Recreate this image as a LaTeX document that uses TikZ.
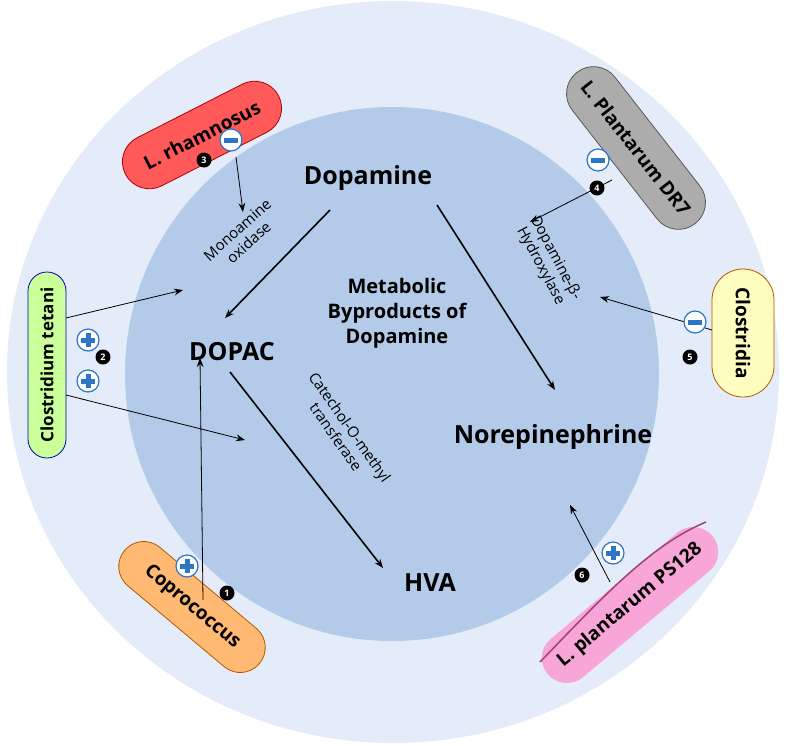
\documentclass[tikz,border=0pt]{standalone}
\usepackage{fontspec}
\setmainfont{Open Sans}
\usetikzlibrary{arrows.meta}
\definecolor{outerc}{HTML}{E3ECF8}
\definecolor{innerc}{HTML}{B3CAE9}
\definecolor{iconb}{HTML}{2E75C6}
\begin{document}
\begin{tikzpicture}[x=1pt,y=-1pt,
 pill/.style={rounded corners=27pt,minimum height=54pt,font=\bfseries\fontsize{19}{22}\selectfont,inner sep=0pt,draw=#1!70!black,line width=0.8pt},
 big/.style={font=\bfseries\fontsize{25}{28}\selectfont},
 enz/.style={font=\fontsize{15}{17}\selectfont,align=center},
 thick arr/.style={-{Stealth[length=9pt]},line width=1.6pt},
 thin arr/.style={-{Stealth[length=9pt]},line width=0.8pt},
 num/.style={circle,fill=black,text=white,inner sep=0pt,minimum size=15pt,font=\bfseries\fontsize{9}{9}\selectfont},
 ico/.style={circle,draw=iconb,line width=1.2pt,fill=white,minimum size=22pt,inner sep=0pt}
]
\useasboundingbox (0,0) rectangle (787,745);
\fill[outerc] (393,372) ellipse [x radius=386, y radius=371];
\fill[innerc] (392,374) circle [radius=267];

\node[big] (dop) at (368,178) {Dopamine};
\node[big] (dopac) at (232,352) {DOPAC};
\node[big] (ne) at (553,437) {Norepinephrine};
\node[big] (hva) at (430,583) {HVA};
\node[font=\bfseries\fontsize{20}{25}\selectfont,align=center] (meta) at (397,313) {Metabolic\\Byproducts of\\Dopamine};
\node[enz,rotate=42] (mao) at (243,236) {Monoamine\\oxidase};
\node[enz,rotate=-62] (dbh) at (548,262) {Dopamine-β-\\Hydroxylase};
\node[enz,rotate=-55] (comt) at (343,432) {Catechol-O-methyl\\transferase};

\coordinate (a1) at (330,210);
\coordinate (a1e) at (225,318);
\coordinate (b1) at (437,205);
\coordinate (b1e) at (555,390);
\coordinate (c1) at (230,372);
\coordinate (c1e) at (383,568);
\draw[thick arr] (a1) -- (a1e);
\draw[thick arr] (b1) -- (b1e);
\draw[thick arr] (c1) -- (c1e);

\node[pill=red,fill=red!65,rotate=27,minimum width=172pt] (rh) at (202,135) {L. rhamnosus};
\node[pill=gray,fill=gray!65,rotate=-52,minimum width=192pt] (dr7) at (636,148) {L. Plantarum DR7};
\node[pill=blue,fill=green!35!lime!40,rotate=90,minimum width=186pt,minimum height=38pt,rounded corners=19pt,font=\bfseries\fontsize{17}{19}\selectfont] (ct) at (47,365) {Clostridium tetani};
\node[pill=orange,fill=yellow!25,rotate=-90,minimum width=128pt,minimum height=62pt,rounded corners=31pt] (cl) at (743,333) {Clostridia};
\node[pill=orange,fill=orange!55,rotate=-40,minimum width=176pt,minimum height=50pt,rounded corners=25pt] (co) at (192,607) {Coprococcus};
\node[pill=magenta,fill=magenta!35,draw=none,rotate=40,minimum width=215pt,minimum height=50pt,rounded corners=25pt] (ps) at (630,605) {L. plantarum PS128};
\draw[magenta!60!black,line width=1.5pt] (540,662) .. controls (600,600) and (650,545) .. (706,522);

\coordinate (m1) at (243,212);
\coordinate (m2) at (530,222);
\coordinate (m3) at (600,297);
\coordinate (m4) at (183,290);
\coordinate (m5) at (245,440);
\coordinate (m6) at (200,358);
\coordinate (m7) at (570,505);
\coordinate (s1) at (236,157);
\coordinate (s2) at (612,180);
\coordinate (s3) at (712,330);
\coordinate (s4) at (66,318);
\coordinate (s5) at (66,395);
\coordinate (s6) at (203,600);
\coordinate (s7) at (610,582);
\draw[thin arr] (s1) -- (m1);
\draw[thin arr] (s2) -- (m2);
\draw[thin arr] (s3) -- (m3);
\draw[thin arr] (s4) -- (m4);
\draw[thin arr] (s5) -- (m5);
\draw[thin arr] (s6) -- (m6);
\draw[thin arr] (s7) -- (m7);

\foreach \n/\p in {mi1/{231,140},mi2/{598,160},mi3/{695,322}}{
 \node[ico] (\n) at (\p) {};
 \fill[iconb] ([xshift=-7pt,yshift=-2.5pt]\n.center) rectangle ([xshift=7pt,yshift=2.5pt]\n.center);}
\foreach \n/\p in {pl1/{88,340},pl2/{88,381},pl3/{187,566},pl4/{613,553}}{
 \node[ico] (\n) at (\p) {};
 \fill[iconb] ([xshift=-7pt,yshift=-2.5pt]\n.center) rectangle ([xshift=7pt,yshift=2.5pt]\n.center);
 \fill[iconb] ([xshift=-2.5pt,yshift=-7pt]\n.center) rectangle ([xshift=2.5pt,yshift=7pt]\n.center);}
\node[num] (n1) at (227,593) {1};
\node[num] (n2) at (103,357) {2};
\node[num] (n3) at (204,160) {3};
\node[num] (n4) at (597,188) {4};
\node[num] (n5) at (690,357) {5};
\node[num] (n6) at (582,575) {6};
\end{tikzpicture}
\end{document}
